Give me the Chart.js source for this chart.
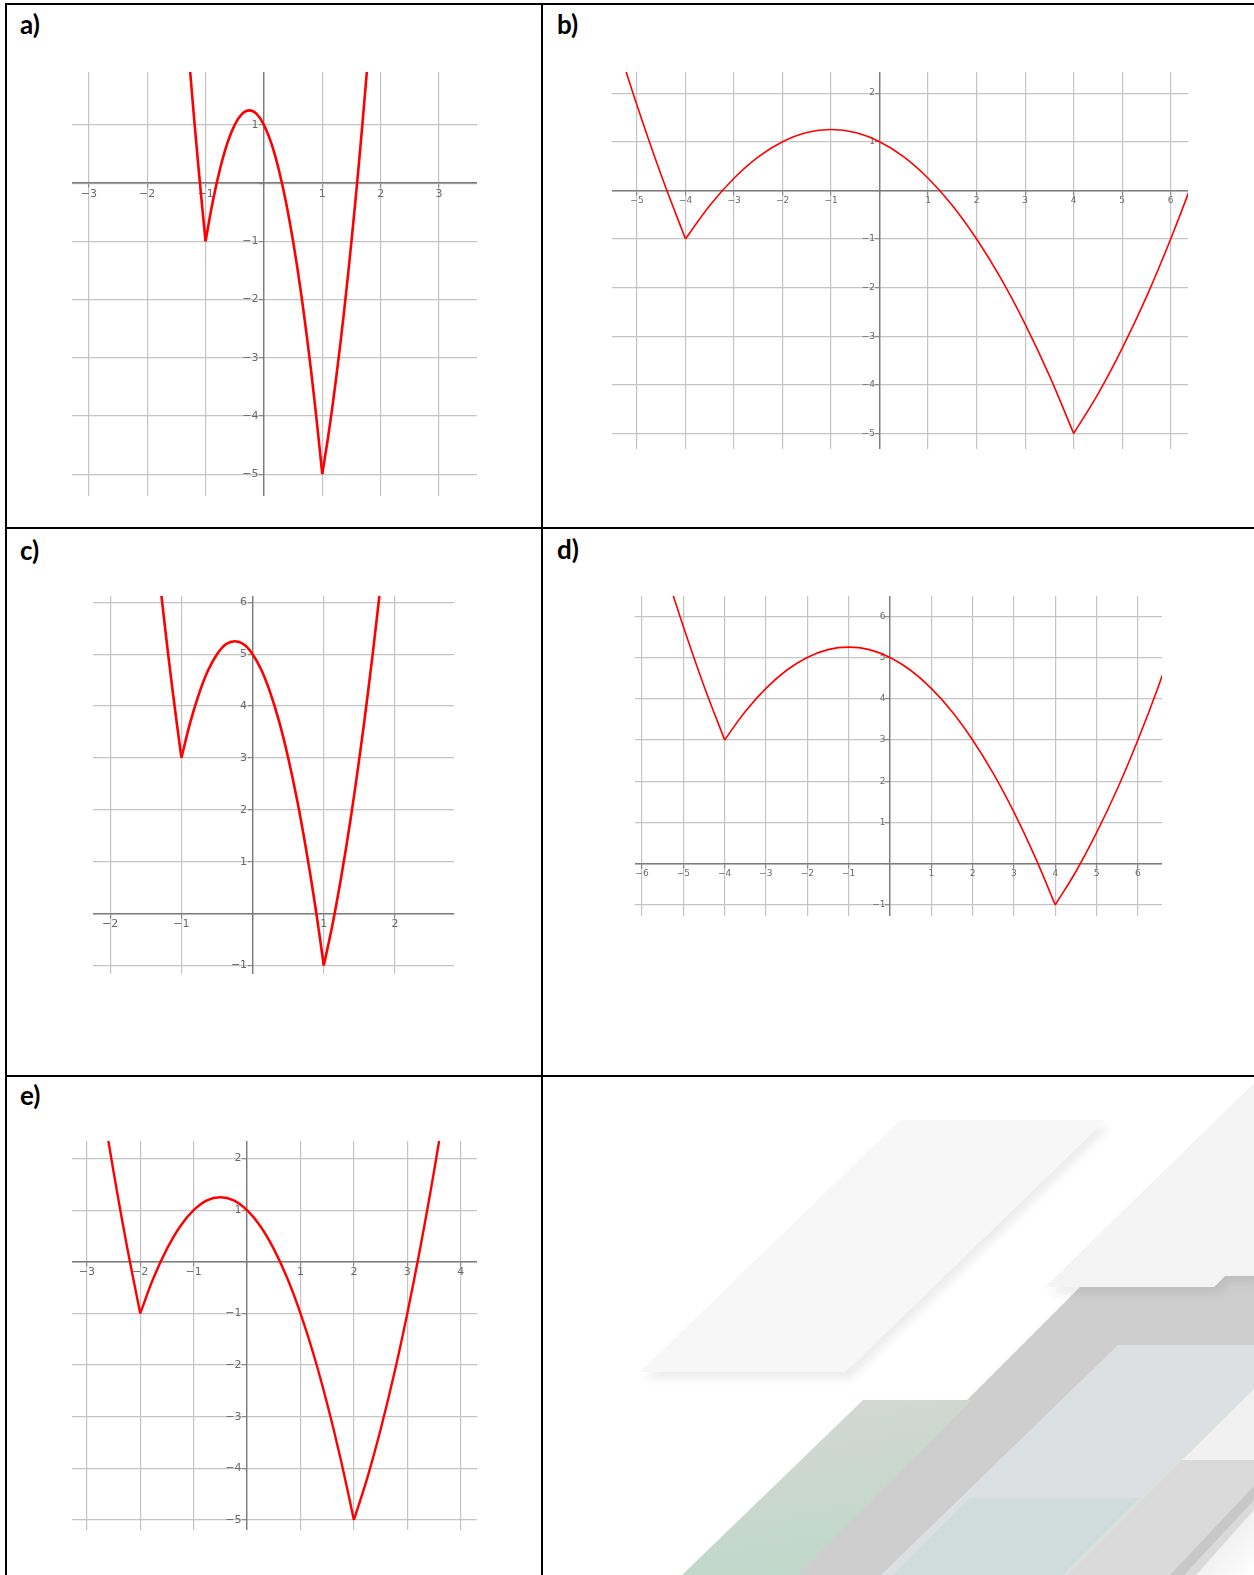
<!DOCTYPE html>
<html>
<head>
<meta charset="utf-8">
<script src="https://cdn.jsdelivr.net/npm/chart.js@4.4.1/dist/chart.umd.min.js"></script>
<style>
html, body { margin: 0; padding: 0; background: #fff; }
body { width: 1254px; height: 1575px; position: relative; overflow: hidden; }
.plot { position: absolute; }
.rule { position: absolute; background: #000; }
#decor { position: absolute; left: 0; top: 0; }
</style>
</head>
<body>

<!-- decoration of the empty cell + panel letters -->
<svg id="decor" width="1254" height="1575" viewBox="0 0 1254 1575">
  <defs>
    <clipPath id="cellF"><rect x="543" y="1077" width="711" height="498"/></clipPath>
    <filter id="sh" x="-20%" y="-20%" width="140%" height="140%">
      <feDropShadow dx="5" dy="7" stdDeviation="4" flood-color="#000" flood-opacity="0.07"/>
    </filter>
    <linearGradient id="gE" x1="0" y1="0" x2="0.3" y2="1">
      <stop offset="0" stop-color="#d6d7d4"/><stop offset="1" stop-color="#c0d8cb"/>
    </linearGradient>
    <linearGradient id="gW" x1="0" y1="0" x2="1" y2="1">
      <stop offset="0" stop-color="#e4e4e4"/><stop offset="1" stop-color="#ffffff"/>
    </linearGradient>
  </defs>
  <g clip-path="url(#cellF)">
    <polygon points="1091,1276 1254,1276 1254,1575 792,1575" fill="#cecece"/>
    <polygon points="1118,1345 1254,1345 1254,1575 881,1575" fill="#dce0e2"/>
    <polygon points="970,1498 1140,1498 1063,1575 893,1575" fill="#cedcdc"/>
    <polygon points="1182,1460 1254,1460 1254,1575 1067,1575" fill="#dadada"/>
    <polygon points="1182,1460 1254,1460 1254,1389" fill="#f1f1f1"/>
    <polygon points="1170,1575 1254,1486 1254,1500 1184,1575" fill="#c8c8c8"/>
    <polygon points="1196,1575 1254,1510 1254,1575" fill="url(#gW)"/>
    <polygon points="863,1400 972,1400 797,1575 682,1575" fill="url(#gE)"/>
    <polygon points="900,1120 1105,1120 845,1372 640,1372" fill="#f7f7f7" filter="url(#sh)"/>
    <polygon points="1254,1083 1045,1287 1214,1287 1225,1276 1254,1276" fill="#f4f4f4" filter="url(#sh)"/>
  </g>
  <g font-family="Lato" font-weight="bold" font-size="26" fill="#000">
    <text x="20" y="33.5">a)</text>
    <text x="557" y="33.5">b)</text>
    <text x="20" y="559.5">c)</text>
    <text x="557" y="559">d)</text>
    <text x="20" y="1104.5">e)</text>
  </g>
</svg>

<div class="plot" style="left:72px;top:72px;width:405px;height:424px"><canvas id="chartA"></canvas></div>
<div class="plot" style="left:612px;top:72px;width:576px;height:377px"><canvas id="chartB"></canvas></div>
<div class="plot" style="left:93px;top:596px;width:361px;height:378px"><canvas id="chartC"></canvas></div>
<div class="plot" style="left:635px;top:596px;width:527px;height:320px"><canvas id="chartD"></canvas></div>
<div class="plot" style="left:72px;top:1141px;width:405px;height:389px"><canvas id="chartE"></canvas></div>

<!-- table rules -->
<div class="rule" style="left:5px;top:3px;width:1249px;height:2px"></div>
<div class="rule" style="left:5px;top:3px;width:2px;height:1572px"></div>
<div class="rule" style="left:541px;top:3px;width:2px;height:1572px"></div>
<div class="rule" style="left:5px;top:527px;width:1249px;height:2px"></div>
<div class="rule" style="left:5px;top:1075px;width:1249px;height:2px"></div>

<script>
// a) 
var aX = [-1.375, -1.25, -1.125, -1, -0.875, -0.75, -0.625, -0.5, -0.375, -0.25, -0.125, 0, 0.125, 0.25, 0.375, 0.5, 0.625, 0.75, 0.875, 1, 1.125, 1.25, 1.375, 1.5, 1.625, 1.75, 1.875];
var aY = [3.31, 1.75, 0.31, -1, -0.31, 0.25, 0.69, 1, 1.19, 1.25, 1.19, 1, 0.69, 0.25, -0.31, -1, -1.81, -2.75, -3.81, -5, -4.19, -3.25, -2.19, -1, 0.31, 1.75, 3.31];
var aKinks = [-1, 1];

// b)
var bX = [-5.5, -5, -4.5, -4, -3.5, -3, -2.5, -2, -1.5, -1, -0.5, 0, 0.5, 1, 1.5, 2, 2.5, 3, 3.5, 4, 4.5, 5, 5.5, 6, 6.5, 7, 7.5];
var bY = [3.31, 1.75, 0.31, -1, -0.31, 0.25, 0.69, 1, 1.19, 1.25, 1.19, 1, 0.69, 0.25, -0.31, -1, -1.81, -2.75, -3.81, -5, -4.19, -3.25, -2.19, -1, 0.31, 1.75, 3.31];
var bKinks = [-4, 4];

// c)
var cX = [-1.375, -1.25, -1.125, -1, -0.875, -0.75, -0.625, -0.5, -0.375, -0.25, -0.125, 0, 0.125, 0.25, 0.375, 0.5, 0.625, 0.75, 0.875, 1, 1.125, 1.25, 1.375, 1.5, 1.625, 1.75, 1.875];
var cY = [7.31, 5.75, 4.31, 3, 3.69, 4.25, 4.69, 5, 5.19, 5.25, 5.19, 5, 4.69, 4.25, 3.69, 3, 2.19, 1.25, 0.19, -1, -0.19, 0.75, 1.81, 3, 4.31, 5.75, 7.31];
var cKinks = [-1, 1];

// d)
var dX = [-5.5, -5, -4.5, -4, -3.5, -3, -2.5, -2, -1.5, -1, -0.5, 0, 0.5, 1, 1.5, 2, 2.5, 3, 3.5, 4, 4.5, 5, 5.5, 6, 6.5, 7, 7.5];
var dY = [7.31, 5.75, 4.31, 3, 3.69, 4.25, 4.69, 5, 5.19, 5.25, 5.19, 5, 4.69, 4.25, 3.69, 3, 2.19, 1.25, 0.19, -1, -0.19, 0.75, 1.81, 3, 4.31, 5.75, 7.31];
var dKinks = [-4, 4];

// e)
var eX = [-2.75, -2.5, -2.25, -2, -1.75, -1.5, -1.25, -1, -0.75, -0.5, -0.25, 0, 0.25, 0.5, 0.75, 1, 1.25, 1.5, 1.75, 2, 2.25, 2.5, 2.75, 3, 3.25, 3.5, 3.75];
var eY = [3.31, 1.75, 0.31, -1, -0.31, 0.25, 0.69, 1, 1.19, 1.25, 1.19, 1, 0.69, 0.25, -0.31, -1, -1.81, -2.75, -3.81, -5, -4.19, -3.25, -2.19, -1, 0.31, 1.75, 3.31];
var eKinks = [-2, 2];

// split the curve at the corners so the spline keeps them sharp
function pieces(xs, ys, kinks) {
    var out = [];
    var cur = [];
    xs.forEach(function (x, i) {
        cur.push({ x: x, y: ys[i] });
        if (kinks.indexOf(x) >= 0) {
            out.push(cur);
            cur = [{ x: x, y: ys[i] }];
        }
    });
    out.push(cur);
    return out;
}

function tickText(v) {
    if (v === 0) return '';
    return v < 0 ? '\u2212' + Math.abs(v) : String(v);
}

// y labels of a centred axis sit right on the axis line, push them left a bit
function tickTextY(v) {
    var t = tickText(v);
    return t === '' ? '' : t + '\u2002';
}

function noPad(scale) {
    scale.paddingLeft = 0;
    scale.paddingRight = 0;
    scale.paddingTop = 0;
    scale.paddingBottom = 0;
}

function axis(min, max, pos, fontSize, pad, cb) {
    return {
        type: 'linear',
        min: min,
        max: max,
        position: pos,
        afterFit: noPad,
        ticks: {
            stepSize: 1,
            includeBounds: false,
            autoSkip: false,
            maxRotation: 0,
            padding: pad,
            color: '#6a6a6a',
            font: { family: 'DejaVu Sans', size: fontSize },
            callback: cb
        },
        grid: {
            color: '#c4c4c4',
            lineWidth: 1.2,
            tickLength: 4,
            tickColor: '#8a8a8a'
        },
        border: { color: '#7c7c7c', width: 1.4 }
    };
}

function createChart(id, xs, ys, kinks, r, lineWidth, fontSize, pad) {
    var sets = pieces(xs, ys, kinks).map(function (p) {
        return {
            data: p,
            showLine: true,
            borderColor: '#ff0000',
            borderWidth: lineWidth,
            pointRadius: 0,
            tension: 0.4,
            fill: false
        };
    });
    return new Chart(document.getElementById(id), {
        type: 'scatter',
        data: { datasets: sets },
        options: {
            responsive: true,
            maintainAspectRatio: false,
            animation: false,
            layout: { padding: 0 },
            elements: { line: { capBezierPoints: false } },
            scales: {
                x: axis(r[0], r[1], { y: 0 }, fontSize, pad, tickText),
                y: axis(r[2], r[3], { x: 0 }, fontSize, pad, tickTextY)
            },
            plugins: {
                legend: { display: false },
                tooltip: { enabled: false }
            }
        }
    });
}

// axis windows: [xmin, xmax, ymin, ymax]
createChart('chartA', aX, aY, aKinks, [-3.288, 3.651, -5.376, 1.909], 2.6, 11, 0);
createChart('chartB', bX, bY, bKinks, [-5.515, 6.357, -5.319, 2.434], 1.6, 9, 1);
createChart('chartC', cX, cY, cKinks, [-2.242, 2.829, -1.164, 6.121], 2.6, 11, 0);
createChart('chartD', dX, dY, dKinks, [-6.169, 6.583, -1.269, 6.49], 1.6, 9, 1);
createChart('chartE', eX, eY, eKinks, [-3.277, 4.305, -5.196, 2.341], 2.4, 11, 0);
</script>
</body>
</html>
